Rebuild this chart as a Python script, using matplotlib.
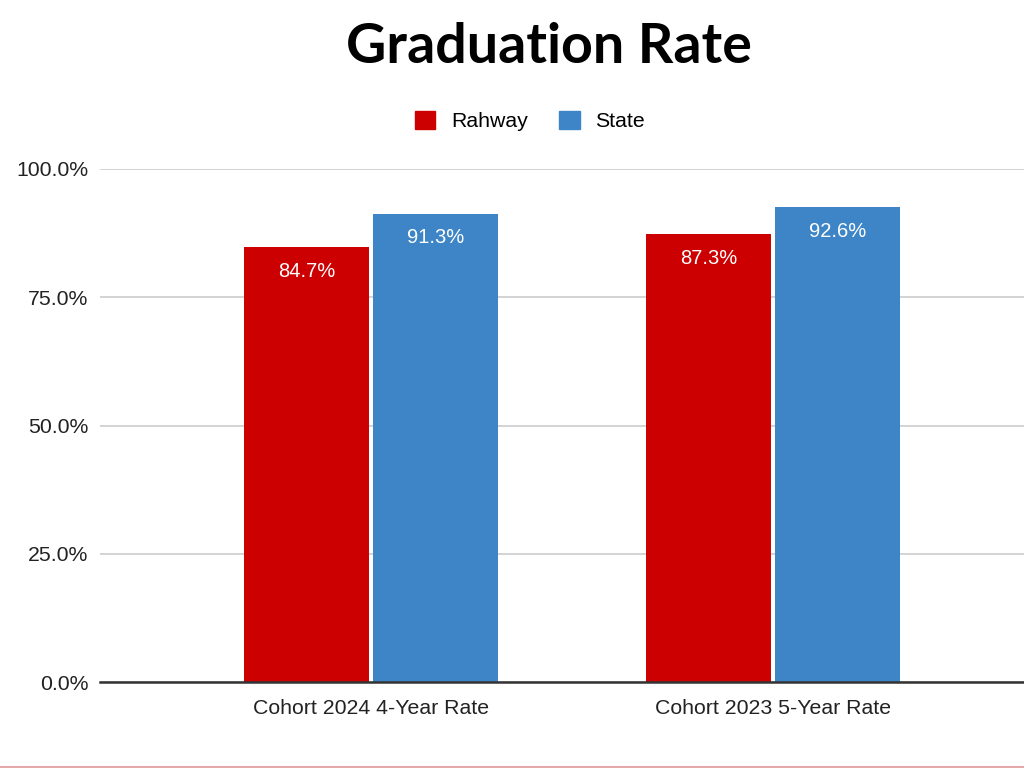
import matplotlib
matplotlib.use("Agg")
import matplotlib.pyplot as plt
from matplotlib.lines import Line2D
from matplotlib.patches import Patch
from matplotlib.ticker import FuncFormatter

categories = ["Cohort 2024 4-Year Rate", "Cohort 2023 5-Year Rate"]
rahway = [84.7, 87.3]
state = [91.3, 92.6]
series_names = ["Rahway", "State"]
colors = ["#cc0000", "#3d85c6"]
yticks = [0, 25, 50, 75, 100]

plt.rcParams['font.family'] = ['Liberation Sans', 'DejaVu Sans']

fig = plt.figure(figsize=(10.24, 7.68), dpi=100)
W, H = 1024, 768
ax = fig.add_axes([100 / W, (768 - 682) / H, (1024 - 100) / W, (682 - 169) / H])

x = list(range(len(categories)))
bw = 125 / 402
off = 64.5 / 402
xr = [i - off for i in x]
xs = [i + off for i in x]
b1 = ax.bar(xr, rahway, width=bw, color=colors[0], zorder=3)
b2 = ax.bar(xs, state, width=bw, color=colors[1], zorder=3)

for bars, vals in ((b1, rahway), (b2, state)):
    for b, v in zip(bars, vals):
        ax.annotate(f"{v:.1f}%", (b.get_x() + b.get_width() / 2, v),
                    xytext=(0, -17.5), textcoords="offset points",
                    ha="center", va="center", color="white", fontsize=14.5, zorder=4)

ax.set_xlim(-0.675, 1 + (1024 - 773.5) / 402)
ax.set_ylim(0, 100)
ax.set_yticks(yticks)
ax.yaxis.set_major_formatter(FuncFormatter(lambda v, p: f"{v:.1f}%"))
ax.set_xticks(x)
ax.set_xticklabels(categories)
ax.tick_params(axis="both", length=0, labelsize=15.3, colors="#222222")
ax.tick_params(axis="y", pad=8.5)
ax.tick_params(axis="x", pad=12)
ax.grid(axis="y", color="#cccccc", linewidth=1.2, zorder=0)
for s in ["top", "right", "left"]:
    ax.spines[s].set_visible(False)
ax.spines["bottom"].set_color("#333333")
ax.spines["bottom"].set_linewidth(1.8)
ax.spines["bottom"].set_zorder(5)

fig.text(549 / W, 1 - 63 / H, "Graduation Rate", ha="center", va="baseline",
         fontsize=40, fontweight="bold", family=["Lato", "DejaVu Sans"], color="black")

handles = [Patch(facecolor=c, edgecolor=c) for c in colors]
fig.legend(handles, series_names, loc="center", bbox_to_anchor=(530 / W, 1 - 121 / H),
           ncol=2, frameon=False, fontsize=15.3, handlelength=0.95, handleheight=0.95,
           columnspacing=1.5, handletextpad=0.75)

fig.add_artist(Line2D([0, 1], [1.5 / H, 1.5 / H], color="#e3a8a8", linewidth=1.5))

fig.savefig("out.png", dpi=100, facecolor="white")
